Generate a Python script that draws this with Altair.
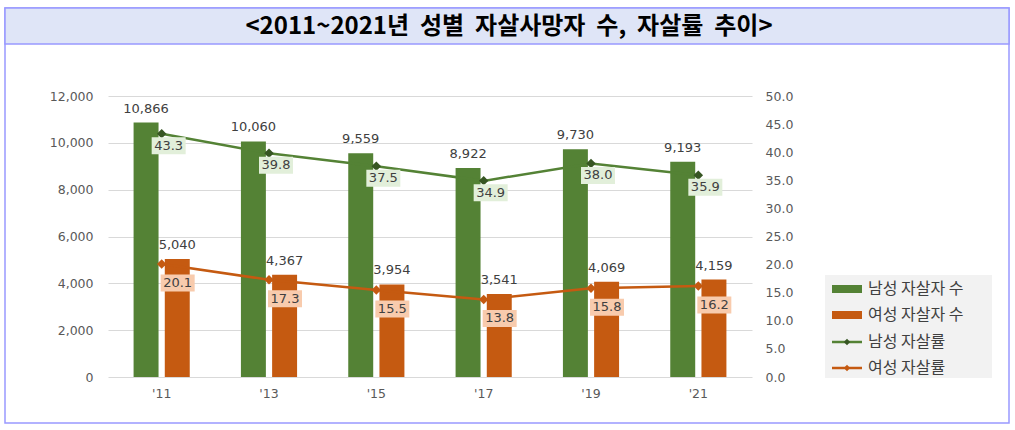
import altair as alt
import pandas as pd

years = ["'11", "'13", "'15", "'17", "'19", "'21"]
male_deaths = [10866, 10060, 9559, 8922, 9730, 9193]
female_deaths = [5040, 4367, 3954, 3541, 4069, 4159]
male_rate = [43.3, 39.8, 37.5, 34.9, 38.0, 35.9]
female_rate = [20.1, 17.3, 15.5, 13.8, 15.8, 16.2]

series_names = ["남성 자살자 수", "여성 자살자 수", "남성 자살률", "여성 자살률"]
series_colors = ["#548235", "#C55A11", "#548235", "#C55A11"]
title_text = "<2011~2021년 \u00a0성별 \u00a0자살사망자 \u00a0수, \u00a0자살률 \u00a0추이>"

GREEN = "#548235"
GREEN_DARK = "#375623"
ORANGE = "#C55A11"
NUM_FONT = "DejaVu Sans"
KR_FONT = "Noto Sans CJK KR"

bars_df = pd.DataFrame(
    [{"year": y, "series": series_names[0], "value": v} for y, v in zip(years, male_deaths)]
    + [{"year": y, "series": series_names[1], "value": v} for y, v in zip(years, female_deaths)]
)
male_df = pd.DataFrame({"year": years, "rate": male_rate})
female_df = pd.DataFrame({"year": years, "rate": female_rate})
dummy = pd.DataFrame({"a": [0]})

xscale = alt.Scale(domain=years, paddingInner=0, paddingOuter=0)
x_enc = alt.X("year:N", scale=xscale, sort=years,
              axis=alt.Axis(title=None, labelAngle=0, domain=False, ticks=False,
                            labelFont=NUM_FONT, labelFontSize=12.5, labelColor="#595959",
                            labelPadding=10))

yleft = alt.Y("value:Q", scale=alt.Scale(domain=[0, 12000], nice=False),
              axis=alt.Axis(title=None, orient="left", values=list(range(0, 12001, 2000)),
                            format=",d", domain=False, ticks=False, grid=True,
                            gridColor="#D9D9D9", gridWidth=1.2,
                            labelFont=NUM_FONT, labelFontSize=12.5, labelColor="#595959",
                            labelPadding=15))

off = alt.XOffset("series:N", sort=series_names[:2],
                  scale=alt.Scale(domain=series_names[:2], paddingInner=0.2, paddingOuter=0.82))
color_bars = alt.Color("series:N", scale=alt.Scale(domain=series_names[:2], range=series_colors[:2]),
                       legend=None)

bars = alt.Chart(bars_df).mark_bar().encode(x=x_enc, xOffset=off, y=yleft, color=color_bars)
bar_text = alt.Chart(bars_df).mark_text(baseline="middle", dy=-14, font=NUM_FONT, fontSize=13,
                                        color="#404040").encode(
    x=x_enc, xOffset=off, y=yleft, text=alt.Text("value:Q", format=",d"))
left_layer = alt.layer(bars, bar_text)

yright_axis = alt.Axis(title=None, orient="right", values=[i * 5 for i in range(11)],
                       format=".1f", domain=False, ticks=False, grid=False,
                       labelFont=NUM_FONT, labelFontSize=12.5, labelColor="#595959",
                       labelPadding=13)
rscale = alt.Scale(domain=[0, 50], nice=False)

box_path = "M-1,-0.5 L1,-0.5 L1,0.5 L-1,0.5 Z"

def rate_layers(df, line_color, marker_color, box_color, dx, dy):
    y_enc = alt.Y("rate:Q", scale=rscale, axis=yright_axis)
    line = alt.Chart(df).mark_line(color=line_color, strokeWidth=2.5).encode(x=x_enc, y=y_enc)
    pts = alt.Chart(df).mark_point(shape="diamond", filled=True, size=90, opacity=1,
                                   color=marker_color).encode(x=x_enc, y=y_enc)
    box = alt.Chart(df).mark_point(shape=box_path, filled=True, size=34 * 34, opacity=1,
                                   color=box_color, xOffset=dx, yOffset=dy).encode(x=x_enc, y=y_enc)
    txt = alt.Chart(df).mark_text(font=NUM_FONT, fontSize=13, color="#404040", dx=dx, dy=dy,
                                  baseline="middle").encode(
        x=x_enc, y=y_enc, text=alt.Text("rate:Q", format=".1f"))
    return [line, pts, box, txt]

right_layer = alt.layer(
    *rate_layers(male_df, GREEN, GREEN_DARK, "#E2EFDA", 7, 12),
    *rate_layers(female_df, ORANGE, ORANGE, "#F8CBAD", 16, 19),
)

# decorations (frame, title band, legend)
frame = alt.Chart(dummy).mark_rect(fillOpacity=0, stroke="#9999FF", strokeWidth=1.5).encode(
    x=alt.value(-103), x2=alt.value(901), y=alt.value(-88), y2=alt.value(327))
band = alt.Chart(dummy).mark_rect(fill="#DFE5F7", stroke="#9999FF", strokeWidth=1.5).encode(
    x=alt.value(-103), x2=alt.value(901), y=alt.value(-88), y2=alt.value(-52))
title = alt.Chart(dummy).mark_text(text=title_text, font=KR_FONT, fontSize=24, fontWeight="bold",
                                   color="#000000", align="center", baseline="middle").encode(
    x=alt.value(401), y=alt.value(-69))

legend_parts = [alt.Chart(dummy).mark_rect(fill="#F2F2F2").encode(
    x=alt.value(717), x2=alt.value(884), y=alt.value(179), y2=alt.value(282))]
row_y = [193, 219, 246, 272]
for i, (name, col) in enumerate(zip(series_names, series_colors)):
    yy = row_y[i]
    if i < 2:
        legend_parts.append(alt.Chart(dummy).mark_rect(fill=col).encode(
            x=alt.value(724), x2=alt.value(754), y=alt.value(yy - 4), y2=alt.value(yy + 4)))
    else:
        legend_parts.append(alt.Chart(dummy).mark_rule(color=col, strokeWidth=2.5).encode(
            x=alt.value(724), x2=alt.value(754), y=alt.value(yy)))
        legend_parts.append(alt.Chart(dummy).mark_point(shape="diamond", filled=True, size=40,
                                                        opacity=1,
                                                        color=GREEN_DARK if i == 2 else ORANGE).encode(
            x=alt.value(739), y=alt.value(yy)))
    legend_parts.append(alt.Chart(dummy).mark_text(text=name, font=KR_FONT, fontSize=16,
                                                   color="#404040", align="left",
                                                   baseline="middle").encode(
        x=alt.value(760), y=alt.value(yy)))

deco_back = alt.layer(frame, band, title)
legend_layer = alt.layer(*legend_parts)

chart = alt.layer(deco_back, left_layer, right_layer, legend_layer).resolve_scale(
    y="independent"
).resolve_axis(y="independent").properties(
    width=644, height=281,
    padding={"left": 108, "top": 96, "right": 263, "bottom": 53},
    autosize=alt.AutoSizeParams(type="none"),
    background="white",
).configure_view(stroke=None)

chart.save("out.html", embed_options={"renderer": "svg", "actions": False})
